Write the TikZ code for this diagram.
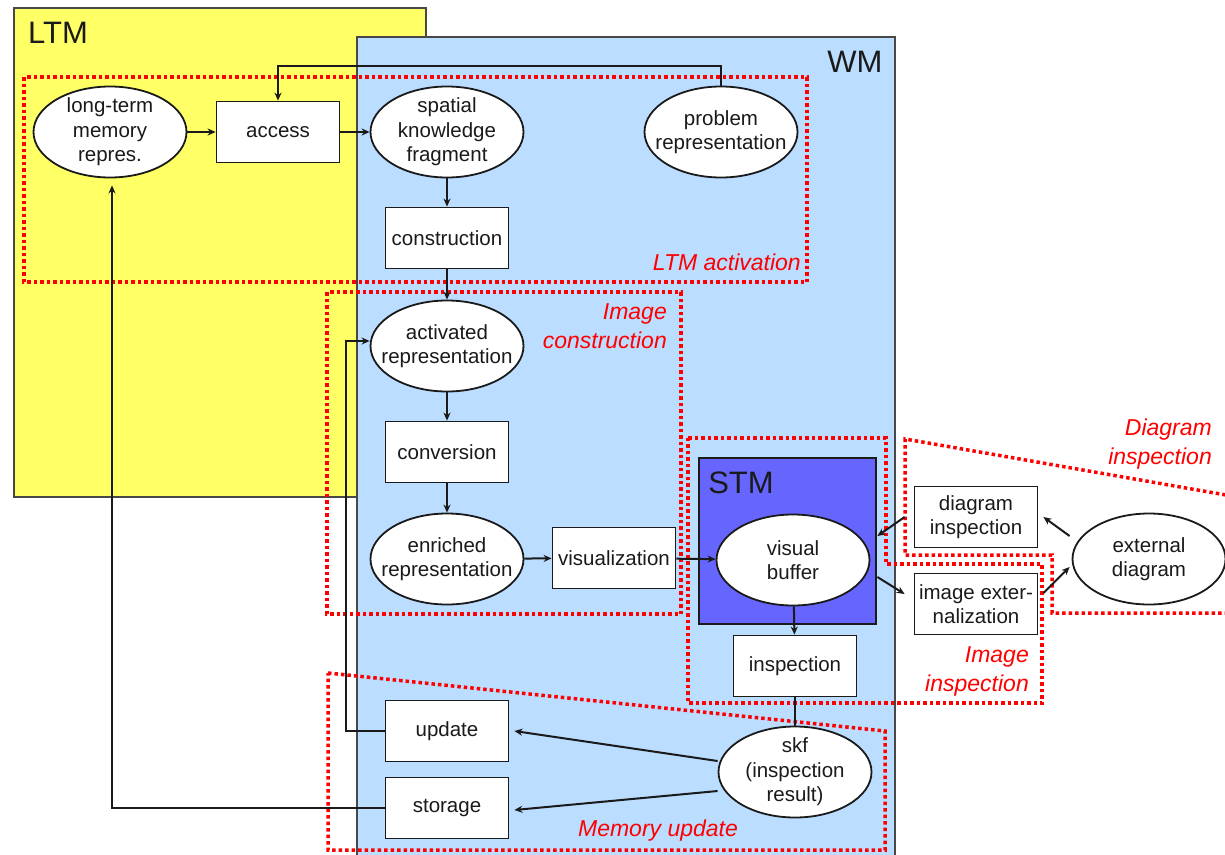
\documentclass[tikz,border=0pt]{standalone}
\usepackage{fontspec}
\setmainfont{Liberation Sans}
\usetikzlibrary{shapes.geometric,arrows.meta,calc}
\definecolor{ltmyellow}{HTML}{FFFF66}
\definecolor{wmblue}{HTML}{BBDDFF}
\definecolor{stmblue}{HTML}{6666FF}
\definecolor{ink}{HTML}{1A1A1A}
\definecolor{zonered}{HTML}{FF0000}
\begin{document}
\begin{tikzpicture}[x=1pt,y=-1pt,
 every node/.style={font=\fontsize{20.5}{24.5}\selectfont, text=ink},
 proc/.style={draw=ink, line width=1.8pt, fill=white, minimum width=123pt, minimum height=61pt, inner sep=0pt, align=center},
 repr/.style={ellipse, draw=ink, line width=1.8pt, fill=white, minimum width=153pt, minimum height=91pt, inner xsep=-12pt, inner ysep=-8pt, align=center},
 conn/.style={draw=ink, line width=2pt},
 arr/.style={conn, -{Stealth[length=8pt,width=7pt]}},
 zone/.style={draw=zonered, line width=3.5pt, dash pattern=on 3.5pt off 3pt},
 zonelabel/.style={font=\fontsize{23}{29}\selectfont\itshape, text=zonered, inner sep=0pt, align=right},
 memlabel/.style={font=\fontsize{31}{36}\selectfont, text=ink, inner sep=0pt}]
\fill[white] (0,0) rectangle (1225,854);
\useasboundingbox (0,0) rectangle (1225,854);
% memory areas
\filldraw[fill=ltmyellow, draw=ink!80, line width=1.3pt] (14,8) rectangle (426,497);
\fill[wmblue] (357,37) rectangle (895,860);
\draw[ink!80, line width=1.3pt] (357,860) -- (357,37) -- (895,37) -- (895,860);
\filldraw[fill=stmblue, draw=ink, line width=1.5pt] (699,458) rectangle (876,624);
\node[memlabel] (ltmlabel) at (58,33) {LTM};
\node[memlabel] (wmlabel) at (855,62) {WM};
\node[memlabel] (stmlabel) at (741,483) {STM};
% nodes
\node[repr] (ltm) at (110,132) {long-term\\memory\\repres.};
\node[proc] (access) at (278,132) {access};
\node[repr] (skfrag) at (447,132) {spatial\\knowledge\\fragment};
\node[repr] (prob) at (721,132) {problem\\representation};
\node[proc] (constr) at (447,238) {construction};
\node[repr] (act) at (447,346) {activated\\representation};
\node[proc] (conv) at (447,452) {conversion};
\node[repr] (enr) at (447,559) {enriched\\representation};
\node[proc] (vis) at (614,558) {visualization};
\node[repr] (vb) at (793,560) {visual\\buffer};
\node[proc] (insp) at (795,666) {inspection};
\node[repr] (skfres) at (795,772) {skf\\(inspection\\result)};
\node[proc] (upd) at (447,731) {update};
\node[proc] (stor) at (447,808) {storage};
\node[proc] (diag) at (976,517) {diagram\\inspection};
\node[proc] (ext) at (976,604) {image exter-\\nalization};
\node[repr] (extd) at (1149,559) {external\\diagram};
% zones
\draw[zone] (24,77) rectangle (807,282);
\draw[zone] (327,292) rectangle (681,614);
\draw[zone] (688,438) -- (886,438) -- (886,564) -- (1042,564) -- (1042,703) -- (688,703) -- cycle;
\draw[zone] (1232,496) -- (905,439) -- (905,555) -- (1052,555) -- (1052,613) -- (1232,613);
\draw[zone] (328,673) -- (885,731) -- (885,850) -- (328,850) -- cycle;
\node[zonelabel, anchor=base east] (lbl1) at (801,270) {LTM activation};
\node[zonelabel, anchor=east] (lbl2) at (667,326) {Image\\construction};
\node[zonelabel, anchor=east] (lbl3) at (1212,444) {Diagram\\inspection};
\node[zonelabel, anchor=east] (lbl4) at (1029,671) {Image\\inspection};
\node[zonelabel] (lbl5) at (658,831) {Memory update};
% connectors
\draw[arr] (ltm) -- (access);
\draw[arr] (access) -- (skfrag);
\draw[arr] (prob.north) -- ++(0,-20) -| (access.north);
\draw[arr] (skfrag) -- (constr);
\draw[arr] (constr) -- (act);
\draw[arr] (act) -- (conv);
\draw[arr] (conv) -- (enr);
\draw[arr] (enr) -- (vis);
\draw[arr] (vis) -- (vb);
\draw[arr] (vb) -- (insp);
\draw[conn] (insp) -- (skfres);
\draw[arr] ([shift={(0,-11)}]skfres.west) -- ([shift={(5,0)}]upd.east);
\draw[arr] ([shift={(0,19)}]skfres.west) -- ([shift={(5,2)}]stor.east);
\draw[arr] (upd.west) -- ++(-39,0) |- ([shift={(0,-5)}]act.west);
\draw[arr] (stor.west) -| ([shift={(2,7)}]ltm.south);
\draw[arr] ([shift={(-9,0)}]diag.west) -- ([shift={(7,-24)}]vb.east);
\draw[arr] ([shift={(7,17)}]vb.east) -- ([shift={(-9,-10)}]ext.west);
\draw[arr] ([shift={(-2,-23)}]extd.west) -- ([shift={(5,0)}]diag.east);
\draw[arr] ([shift={(5,-11)}]ext.east) -- ([shift={(-2,8)}]extd.west);
\end{tikzpicture}
\end{document}
